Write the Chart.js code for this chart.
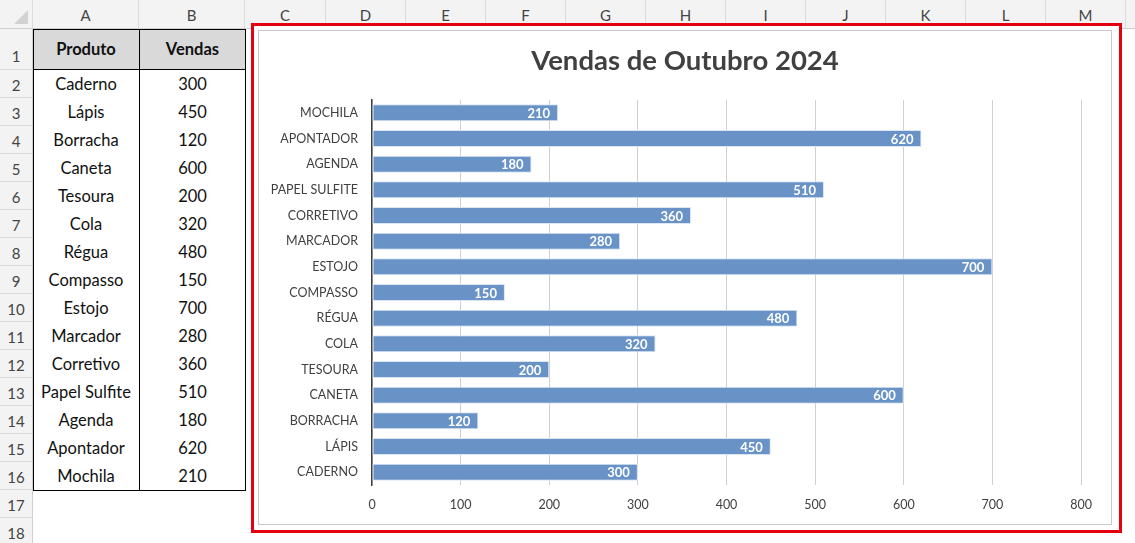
<!DOCTYPE html>
<html lang="pt-BR">
<head>
<meta charset="utf-8">
<title>Vendas de Outubro 2024</title>
<script src="https://cdn.jsdelivr.net/npm/chart.js@4.4.1/dist/chart.umd.min.js"></script>
<style>
    html, body { margin: 0; padding: 0; background: #fff; }
    body { width: 1135px; height: 543px; position: relative; overflow: hidden; font-family: Lato, 'Open Sans', sans-serif; }
    .colhead { position: absolute; top: 0; height: 28px; background: #f3f3f3; border-bottom: 1px solid #cfcfcf; left: 0; right: 0; }
    .colhead div { position: absolute; top: 0; height: 28px; line-height: 30px; text-align: center; font-size: 15px; color: #444; border-right: 1px solid #dcdcdc; box-sizing: border-box; }
    .corner { background: #f3f3f3; }
    .corner:after { content: ''; position: absolute; right: 4px; bottom: 4px; border-left: 14px solid transparent; border-bottom: 14px solid #d2d2d2; }
    .rowhead { position: absolute; left: 0; width: 33px; background: #f3f3f3; border-right: 1px solid #cfcfcf; box-sizing: border-box; font-size: 15px; color: #444; text-align: center; border-bottom: 1px solid #dcdcdc; }
    .cell { position: absolute; box-sizing: border-box; text-align: center; font-size: 16.5px; color: #111; }
    .hdr { background: #d9d9d9; font-weight: bold; }
    .tbl { position: absolute; left: 33px; top: 29px; width: 213px; height: 462px; border: 1px solid #000; box-sizing: border-box; }
    .vline { position: absolute; left: 139px; top: 29px; width: 1px; height: 462px; background: #000; }
    .hline { position: absolute; left: 33px; top: 69px; width: 213px; height: 1px; background: #000; }
    .redbox { position: absolute; left: 251px; top: 23px; width: 871px; height: 510px; border: 3px solid #e3000f; box-sizing: border-box; background: #fff; }
    .chartbox { position: absolute; left: 258px; top: 30px; width: 854px; height: 495px; border: 1px solid #c8c8c8; box-sizing: border-box; background: #fff; }
    .chartbox canvas { position: absolute; left: 0; top: 0; }
</style>
</head>
<body>
<div id="sheet"></div>
<div class="redbox"></div>
<div class="chartbox"><canvas id="vendasChart" width="852" height="493"></canvas></div>

<script>
// dados da planilha (A2:B16)
const produtos = ['Caderno', 'Lápis', 'Borracha', 'Caneta', 'Tesoura', 'Cola', 'Régua', 'Compasso',
                  'Estojo', 'Marcador', 'Corretivo', 'Papel Sulfite', 'Agenda', 'Apontador', 'Mochila'];
const vendas   = [300, 450, 120, 600, 200, 320, 480, 150, 700, 280, 360, 510, 180, 620, 210];
const xTicks   = [0, 100, 200, 300, 400, 500, 600, 700, 800];
const colunas  = ['A', 'B', 'C', 'D', 'E', 'F', 'G', 'H', 'I', 'J', 'K', 'L', 'M', 'N'];
const titulo   = 'Vendas de Outubro 2024';

function buildSheet() {
    const sheet = document.getElementById('sheet');
    const widths = [106, 106, 81, 80, 80, 80, 80, 80, 80, 80, 80, 80, 80, 80];
    let html = '<div class="colhead"><div class="corner" style="left:0;width:33px"></div>';
    let x = 33;
    colunas.forEach((c, i) => {
        html += `<div style="left:${x}px;width:${widths[i]}px">${c}</div>`;
        x += widths[i];
    });
    html += '</div>';

    // linhas: 1 mais alta, as demais 28px
    const rowTop = r => r === 1 ? 29 : 70 + (r - 2) * 28;
    const rowH   = r => r === 1 ? 41 : 28;
    for (let r = 1; r <= 18; r++) {
        html += `<div class="rowhead" style="top:${rowTop(r)}px;height:${rowH(r)}px;line-height:${rowH(r) + (r === 1 ? 14 : 2)}px">${r}</div>`;
    }
    html += `<div class="cell hdr" style="left:33px;top:29px;width:106px;height:41px;line-height:41px">Produto</div>`;
    html += `<div class="cell hdr" style="left:139px;top:29px;width:107px;height:41px;line-height:41px">Vendas</div>`;
    produtos.forEach((p, i) => {
        const t = rowTop(i + 2);
        html += `<div class="cell" style="left:33px;top:${t}px;width:106px;height:28px;line-height:29px">${p}</div>`;
        html += `<div class="cell" style="left:139px;top:${t}px;width:107px;height:28px;line-height:29px">${vendas[i]}</div>`;
    });
    html += '<div class="tbl"></div><div class="vline"></div><div class="hline"></div>';
    sheet.innerHTML = html;
}

// rótulos de dados dentro da extremidade da barra
const barLabels = {
    id: 'barLabels',
    afterDatasetsDraw(chart) {
        const { ctx } = chart;
        const meta = chart.getDatasetMeta(0);
        ctx.save();
        ctx.font = 'bold 13px Lato, sans-serif';
        ctx.fillStyle = '#ffffff';
        ctx.textAlign = 'right';
        ctx.textBaseline = 'middle';
        meta.data.forEach((bar, i) => {
            ctx.fillText(chart.data.datasets[0].data[i], bar.x - 8, bar.y + 1);
        });
        ctx.restore();
    }
};

// título centralizado no quadro inteiro (o padding direito só serve ao eixo)
const centerTitle = {
    id: 'centerTitle',
    afterLayout(chart) {
        if (chart.titleBlock) { chart.titleBlock.left = 0; chart.titleBlock.right = chart.width; }
    }
};

function renderChart() {
    const ctx = document.getElementById('vendasChart').getContext('2d');
    new Chart(ctx, {
        type: 'bar',
        data: {
            labels: produtos.map(p => p.toLocaleUpperCase('pt-BR')),
            datasets: [{
                label: 'Vendas',
                data: vendas,
                backgroundColor: '#6993c7',
                borderColor: '#dce6f2',
                borderWidth: 1,
                borderSkipped: false,
                barPercentage: 0.66,
                categoryPercentage: 1
            }]
        },
        plugins: [barLabels, centerTitle],
        options: {
            indexAxis: 'y',
            responsive: false,
            animation: false,
            layout: { padding: { left: 0, right: 30, top: 0, bottom: 10 } },
            plugins: {
                legend: { display: false },
                tooltip: { enabled: false },
                title: {
                    display: true, text: titulo, color: '#404040',
                    font: { family: 'Lato, sans-serif', size: 27.5, weight: 'bold' },
                    padding: { top: 14, bottom: 22 }
                }
            },
            scales: {
                x: {
                    min: 0, max: 800,
                    afterBuildTicks: s => { s.ticks = xTicks.map(v => ({ value: v })); },
                    afterFit: s => { s.height = 29; },
                    grid: { color: '#d0d0d0', drawTicks: false },
                    border: { display: false },
                    ticks: { color: '#404040', padding: 12, font: { family: 'Lato, sans-serif', size: 12.5 } }
                },
                y: {
                    reverse: true,
                    afterFit: s => { s.width = 113; },
                    grid: { display: false },
                    border: { display: true, color: '#404040', width: 1.5 },
                    ticks: { color: '#404040', padding: 6, autoSkip: false, font: { family: 'Lato, sans-serif', size: 12.5 } }
                }
            }
        }
    });
}

document.addEventListener('DOMContentLoaded', () => { buildSheet(); renderChart(); });
</script>
</body>
</html>
